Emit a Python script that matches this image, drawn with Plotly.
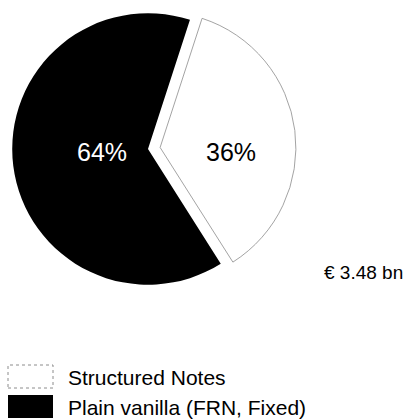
import plotly.graph_objects as go

# Issue volume split by note type
categories = ["Structured Notes", "Plain vanilla (FRN, Fixed)"]
shares = [36, 64]
total_label = "€ 3.48 bn"

W, H = 412, 420
FONT = "Liberation Sans, Arial, Helvetica, sans-serif"


def px(x):
    return x / W


def py(y):
    return 1 - y / H


fig = go.Figure(
    go.Pie(
        labels=categories,
        values=shares,
        sort=False,
        direction="clockwise",
        rotation=18,
        pull=[0.09, 0],
        marker=dict(
            colors=["white", "black"],
            line=dict(color=["#8c8c8c", "black"], width=[0.8, 0]),
        ),
        textinfo="none",
        hoverinfo="label+percent",
        showlegend=False,
        domain=dict(x=[0, px(296)], y=[py(297), py(1)]),
    )
)

annotations = []
# Percentage labels inside the slices
pct_pos = [(231, 152, "black"), (102, 152, "white")]
for v, (x, y, c) in zip(shares, pct_pos):
    annotations.append(dict(
        x=px(x), y=py(y), xref="paper", yref="paper",
        text=f"{v}%", showarrow=False,
        font=dict(family=FONT, size=25, color=c),
        xanchor="center", yanchor="middle",
    ))

# Total volume
annotations.append(dict(
    x=px(322), y=py(272), xref="paper", yref="paper",
    text=total_label, showarrow=False,
    font=dict(family=FONT, size=19, color="black"),
    xanchor="left", yanchor="middle",
))

# Legend drawn as swatches + labels
shapes = []
swatches = [
    dict(y0=365, y1=388, fill="white", line=dict(color="#8c8c8c", width=1, dash="dot")),
    dict(y0=395, y1=418, fill="black", line=dict(color="black", width=0)),
]
for cat, sw in zip(categories, swatches):
    shapes.append(dict(
        type="rect", xref="paper", yref="paper",
        x0=px(8), x1=px(53), y0=py(sw["y1"]), y1=py(sw["y0"]),
        fillcolor=sw["fill"], line=sw["line"],
    ))
    annotations.append(dict(
        x=px(66), y=py((sw["y0"] + sw["y1"]) / 2 + 1), xref="paper", yref="paper",
        text=cat, showarrow=False,
        font=dict(family=FONT, size=21, color="black"),
        xanchor="left", yanchor="middle",
    ))

fig.update_layout(
    width=W, height=H,
    margin=dict(l=0, r=0, t=0, b=0),
    paper_bgcolor="white",
    plot_bgcolor="white",
    annotations=annotations,
    shapes=shapes,
)

fig.write_html("out.html", config={"displayModeBar": False})
